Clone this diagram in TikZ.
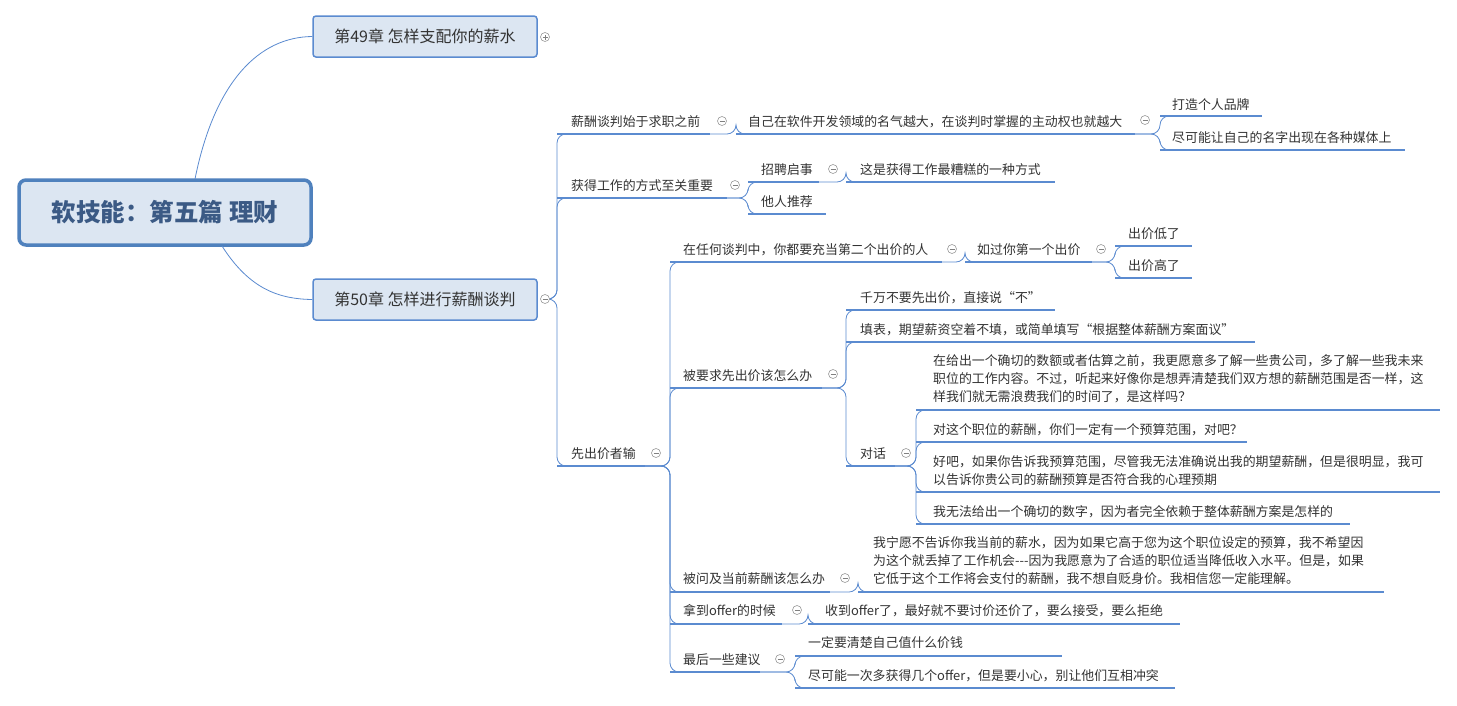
\documentclass[tikz,border=0pt]{standalone}
\usepackage{fontspec}
\setmainfont{Noto Sans CJK SC}
\definecolor{ln}{HTML}{5B8BD0}
\definecolor{rootfill}{HTML}{DCE6F2}
\definecolor{rootbd}{HTML}{4F81BD}
\definecolor{tx}{HTML}{333333}
\tikzset{
  uline/.style={draw=ln,line width=2.8pt},
  link/.style={draw=ln,line width=0.8pt,rounded corners=9pt},
  txt/.style={inner sep=0pt,anchor=base west,text=tx,font=\fontsize{12.9}{18}\selectfont,align=left},
  tog/.style={circle,draw=gray!80,fill=white,line width=0.6pt,minimum size=9pt,inner sep=0pt,
    path picture={\draw[gray] ([xshift=2pt]path picture bounding box.west) -- ([xshift=-2pt]path picture bounding box.east);}},
  togp/.style={tog,path picture={\draw[gray] ([xshift=2pt]path picture bounding box.west) -- ([xshift=-2pt]path picture bounding box.east);
     \draw[gray] ([yshift=2pt]path picture bounding box.south) -- ([yshift=-2pt]path picture bounding box.north);}},
  chap/.style={draw=ln,fill=rootfill,line width=1.5pt,rounded corners=3pt,minimum width=224pt,minimum height=41pt,text=tx,font=\fontsize{16}{18}\selectfont,inner sep=0pt}
}
\newcommand\topic[4]{\coordinate (#1-l) at (#2,#4); \coordinate (#1-r) at (#3,#4); \draw[uline] (#1-l) -- (#1-r);}
\newcommand\conn[2]{\draw[link] (#1-r) -| (#2-l) -- ([xshift=12pt]#2-l);}
\begin{document}
\begin{tikzpicture}[x=1pt,y=-1pt]
\useasboundingbox (0,0) rectangle (1457,705);
\fill[white] (0,0) rectangle (1457,705);
% root and chapters
\node[draw=rootbd,fill=rootfill,line width=3.5pt,rounded corners=7pt,minimum width=292pt,minimum height=65pt,inner sep=0pt,
  text={rgb,255:red,59;green,90;blue,133},font=\fontsize{24.5}{26}\selectfont\bfseries] (root) at (165,212.5) {软技能：第五篇 理财};
\node[chap] (c49) at (425,36.5) {第49章 怎样支配你的薪水};
\node[chap] (c50) at (425,299.5) {第50章 怎样进行薪酬谈判};
\draw[ln,line width=0.8pt] (195,179) .. controls (215,80) and (260,37) .. (c49.west);
\draw[ln,line width=0.8pt] (222,246) .. controls (250,290) and (280,299) .. (c50.west);
\node[togp] at (545,37) {};
\coordinate (c50-r) at (551,299);
% level 2
\topic{A}{557}{710}{134}
\node[txt] at (571,126) {薪酬谈判始于求职之前};
\topic{A1}{736}{1135}{134}
\node[txt] at (748,126) {自己在软件开发领域的名气越大，在谈判时掌握的主动权也就越大};
\topic{A1a}{1160}{1262}{116}
\node[txt] at (1172,109) {打造个人品牌};
\topic{A1b}{1160}{1405}{150}
\node[txt] at (1172,142) {尽可能让自己的名字出现在各种媒体上};
\topic{B}{557}{727}{198}
\node[txt] at (571,190) {获得工作的方式至关重要};
\topic{B1}{748}{819}{182}
\node[txt] at (761,174) {招聘启事};
\topic{B1a}{846}{1055}{182}
\node[txt] at (860,174) {这是获得工作最糟糕的一种方式};
\topic{B2}{748}{826}{214}
\node[txt] at (761,206) {他人推荐};
\topic{C}{557}{645}{466}
\node[txt] at (571,458) {先出价者输};
\topic{C1}{670}{942}{262}
\node[txt] at (683,254) {在任何谈判中，你都要充当第二个出价的人};
\topic{C1a}{965}{1092}{262}
\node[txt] at (977,254) {如过你第一个出价};
\topic{C1a1}{1115}{1192}{246}
\node[txt] at (1128,238) {出价低了};
\topic{C1a2}{1115}{1192}{278}
\node[txt] at (1128,270) {出价高了};
\topic{C2}{670}{822}{388}
\node[txt] at (683,380) {被要求先出价该怎么办};
\topic{C2a}{846}{1055}{310}
\node[txt] at (860,302) {千万不要先出价，直接说“不”};
\topic{C2b}{846}{1255}{342}
\node[txt] at (860,334) {填表，期望薪资空着不填，或简单填写“根据整体薪酬方案面议”};
\topic{C2c}{846}{895}{466}
\node[txt] at (860,458) {对话};
\topic{D1}{916}{1440}{410}
\node[txt] at (933,401) {在给出一个确切的数额或者估算之前，我更愿意多了解一些贵公司，多了解一些我未来\\职位的工作内容。不过，听起来好像你是想弄清楚我们双方想的薪酬范围是否一样，这\\样我们就无需浪费我们的时间了，是这样吗？};
\topic{D2}{916}{1247}{442}
\node[txt] at (933,434) {对这个职位的薪酬，你们一定有一个预算范围，对吧？};
\topic{D3}{916}{1440}{492}
\node[txt] at (933,484) {好吧，如果你告诉我预算范围，尽管我无法准确说出我的期望薪酬，但是很明显，我可\\以告诉你贵公司的薪酬预算是否符合我的心理预期};
\topic{D4}{916}{1350}{524}
\node[txt] at (933,516) {我无法给出一个确切的数字，因为者完全依赖于整体薪酬方案是怎样的};
\topic{C3}{670}{830}{592}
\node[txt] at (683,583) {被问及当前薪酬该怎么办};
\topic{C3a}{858}{1384}{592}
\node[txt] at (873,583) {我宁愿不告诉你我当前的薪水，因为如果它高于您为这个职位设定的预算，我不希望因\\为这个就丢掉了工作机会{-}{-}{-}因为我愿意为了合适的职位适当降低收入水平。但是，如果\\它低于这个工作将会支付的薪酬，我不想自贬身价。我相信您一定能理解。};
\topic{C4}{670}{782}{624}
\node[txt] at (683,615) {拿到offer的时候};
\topic{C4a}{808}{1180}{624}
\node[txt] at (825,615) {收到offer了，最好就不要讨价还价了，要么接受，要么拒绝};
\topic{C5}{670}{760}{672}
\node[txt] at (683,664) {最后一些建议};
\topic{C5a}{795}{1062}{656}
\node[txt] at (808,647) {一定要清楚自己值什么价钱};
\topic{C5b}{795}{1175}{688}
\node[txt] at (808,680) {尽可能一次多获得几个offer，但是要小心，别让他们互相冲突};
% connectors
\conn{c50}{A}\conn{c50}{B}\conn{c50}{C}
\conn{A}{A1}\conn{A1}{A1a}\conn{A1}{A1b}
\conn{B}{B1}\conn{B}{B2}\conn{B1}{B1a}
\conn{C}{C1}\conn{C}{C2}\conn{C}{C3}\conn{C}{C4}\conn{C}{C5}
\conn{C1}{C1a}\conn{C1a}{C1a1}\conn{C1a}{C1a2}
\conn{C2}{C2a}\conn{C2}{C2b}\conn{C2}{C2c}
\conn{C2c}{D1}\conn{C2c}{D2}\conn{C2c}{D3}\conn{C2c}{D4}
\conn{C3}{C3a}\conn{C4}{C4a}\conn{C5}{C5a}\conn{C5}{C5b}
% toggles
\foreach \p in {(545,299),(722,121),(1145,120),(735,185),(833,169),(656,453),(952,249),(1101,249),(833,374),(906,453),(845,578),(797,610),(780,659)}
  \node[tog] at \p {};
\end{tikzpicture}
\end{document}
